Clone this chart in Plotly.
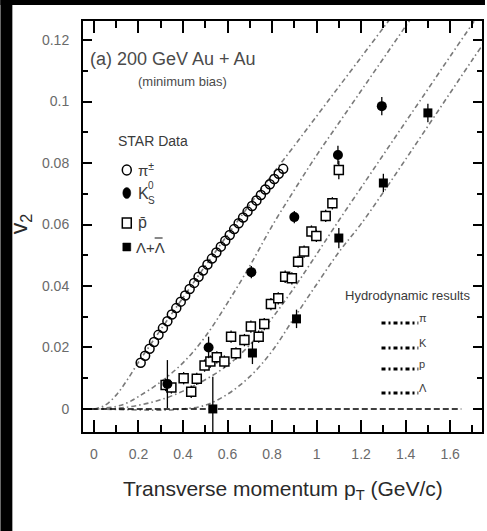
import plotly.graph_objects as go

# ---------------- data ----------------
# charged pions (open circles)
pion_pt = [0.21, 0.23, 0.25, 0.27, 0.29, 0.31, 0.33, 0.35, 0.37, 0.39, 0.41,
           0.43, 0.45, 0.47, 0.49, 0.51, 0.53, 0.55, 0.57, 0.59, 0.61, 0.63,
           0.65, 0.67, 0.69, 0.71, 0.73, 0.75, 0.77, 0.79, 0.81, 0.83, 0.85]
pion_v2 = [0.0150, 0.0173, 0.0196, 0.0218, 0.0241, 0.0263, 0.0285, 0.0307,
           0.0328, 0.0349, 0.0369, 0.0390, 0.0410, 0.0430, 0.0450, 0.0470,
           0.0489, 0.0509, 0.0528, 0.0547, 0.0566, 0.0585, 0.0604, 0.0623,
           0.0642, 0.0660, 0.0678, 0.0696, 0.0714, 0.0731, 0.0748, 0.0765,
           0.0781]

# K0s (filled circles)
kaon_pt = [0.33, 0.515, 0.707, 0.90, 1.096, 1.293]
kaon_v2 = [0.0081, 0.0200, 0.0445, 0.0624, 0.0826, 0.0985]
kaon_err = [0.0078, 0.0035, 0.0020, 0.0020, 0.0030, 0.0030]

# anti-protons (open squares)
pbar_pt = [0.322, 0.348, 0.403, 0.437, 0.462, 0.497, 0.523, 0.552, 0.586,
           0.616, 0.638, 0.676, 0.705, 0.740, 0.765, 0.795, 0.828, 0.859,
           0.889, 0.917, 0.944, 0.977, 0.999, 1.041, 1.071, 1.100]
pbar_v2 = [0.0078, 0.0070, 0.0100, 0.0056, 0.0098, 0.0141, 0.0154, 0.0168,
           0.0154, 0.0235, 0.0181, 0.0224, 0.0268, 0.0235, 0.0276, 0.0341,
           0.0360, 0.0430, 0.0425, 0.0479, 0.0512, 0.0577, 0.0563, 0.0628,
           0.0669, 0.0777]
pbar_err = [0.002] * 25 + [0.003]

# Lambda + anti-Lambda (filled squares)
lam_pt = [0.534, 0.712, 0.910, 1.100, 1.300, 1.500]
lam_v2 = [0.0000, 0.0182, 0.0293, 0.0556, 0.0735, 0.0963]
lam_err = [0.0105, 0.0036, 0.0030, 0.0033, 0.0030, 0.0030]

# hydrodynamic calculations
hyd_pi_pt = [0.0, 0.05, 0.1, 0.15, 0.2, 0.25, 0.3, 0.4, 0.5, 0.6, 0.7, 0.8,
             0.9, 1.0, 1.1, 1.2, 1.3, 1.35]
hyd_pi_v2 = [0.0, 0.0012, 0.0045, 0.0095, 0.0152, 0.0205, 0.0258, 0.0362,
             0.0465, 0.0566, 0.0665, 0.0762, 0.0856, 0.0952, 0.1048, 0.1144,
             0.1240, 0.1288]
hyd_k_pt = [0.0, 0.1, 0.15, 0.2, 0.3, 0.4, 0.5, 0.6, 0.7, 0.8, 0.9, 1.0,
            1.1, 1.2, 1.3, 1.4, 1.45]
hyd_k_v2 = [0.0, 0.0008, 0.0020, 0.0040, 0.0088, 0.0150, 0.0235, 0.0345,
            0.0465, 0.0595, 0.0712, 0.0825, 0.0930, 0.1035, 0.1140, 0.1245,
            0.1297]
hyd_p_pt = [0.0, 0.1, 0.2, 0.3, 0.4, 0.5, 0.6, 0.7, 0.8, 0.9, 1.0, 1.1, 1.2,
            1.3, 1.4, 1.5, 1.6, 1.7, 1.75]
hyd_p_v2 = [0.0, 0.0002, 0.0012, 0.0030, 0.0058, 0.0095, 0.0142, 0.0208,
            0.0295, 0.0395, 0.0503, 0.0613, 0.0720, 0.0827, 0.0934, 0.1040,
            0.1147, 0.1253, 0.1306]
hyd_l_pt = [0.0, 0.2, 0.3, 0.4, 0.5, 0.6, 0.7, 0.8, 0.9, 1.0, 1.1, 1.2, 1.3,
            1.4, 1.5, 1.6, 1.7, 1.78]
hyd_l_v2 = [0.0, -0.0003, -0.0004, 0.0, 0.0012, 0.0048, 0.0105, 0.0188,
            0.0297, 0.0405, 0.0510, 0.0602, 0.0705, 0.0812, 0.0920, 0.1028,
            0.1136, 0.1220]

star_labels = ["π<sup>±</sup>", "K", "p\u0304", "Λ+Λ"]
hydro_labels = ["π", "K", "p", "Λ"]

x_ticks = [0, 0.2, 0.4, 0.6, 0.8, 1, 1.2, 1.4, 1.6]
x_ticktext = ["0", "0.2", "0.4", "0.6", "0.8", "1", "1.2", "1.4", "1.6"]
y_ticks = [0, 0.02, 0.04, 0.06, 0.08, 0.1, 0.12]
y_ticktext = ["0", "0.02", "0.04", "0.06", "0.08", "0.1", "0.12"]

# ---------------- layout helpers ----------------
FIG_W, FIG_H = 487, 531
ML, MR, MT, MB = 83, 3, 21, 99
PW, PH = FIG_W - ML - MR, FIG_H - MT - MB


def px(xp):
    """page pixel x -> paper x"""
    return (xp - ML) / PW


def py(yp):
    """page pixel y -> paper y"""
    return (MT + PH - yp) / PH


FONT = "Liberation Sans, Arial, sans-serif"
HYD_DASH = "5px,3px,1.5px,3px"
HYD_COLOR = "#7a7a7a"

fig = go.Figure()

for xs, ys in [(hyd_pi_pt, hyd_pi_v2), (hyd_k_pt, hyd_k_v2),
               (hyd_p_pt, hyd_p_v2), (hyd_l_pt, hyd_l_v2)]:
    fig.add_trace(go.Scatter(
        x=xs, y=ys, mode="lines", line_shape="spline",
        line=dict(color=HYD_COLOR, width=1.6, dash=HYD_DASH),
        hoverinfo="skip", showlegend=False))

fig.add_trace(go.Scatter(
    x=pion_pt, y=pion_v2, mode="markers", showlegend=False,
    marker=dict(symbol="circle-open", size=9, color="black",
                line=dict(width=1.5, color="black"))))

fig.add_trace(go.Scatter(
    x=pbar_pt, y=pbar_v2, mode="markers", showlegend=False,
    error_y=dict(type="data", array=pbar_err, color="black",
                 thickness=1.3, width=0),
    marker=dict(symbol="square", size=9, color="white",
                line=dict(width=1.5, color="black"))))

fig.add_trace(go.Scatter(
    x=kaon_pt, y=kaon_v2, mode="markers", showlegend=False,
    error_y=dict(type="data", array=kaon_err, color="black",
                 thickness=1.3, width=0),
    marker=dict(symbol="circle", size=10, color="black")))

fig.add_trace(go.Scatter(
    x=lam_pt, y=lam_v2, mode="markers", showlegend=False,
    error_y=dict(type="data", array=lam_err, color="black",
                 thickness=1.3, width=0),
    marker=dict(symbol="square", size=9, color="black")))

shapes = []
# zero line
shapes.append(dict(type="line", xref="x", yref="y", x0=-0.05, x1=1.65,
                   y0=0, y1=0, line=dict(color="black", width=1.5,
                                         dash="6px,3px")))
# black frame strips on left and top of the page
shapes.append(dict(type="rect", xref="paper", yref="paper",
                   x0=px(0), x1=px(12), y0=py(FIG_H), y1=py(0),
                   fillcolor="black", line=dict(width=0), layer="above"))
shapes.append(dict(type="rect", xref="paper", yref="paper",
                   x0=px(0), x1=px(FIG_W), y0=py(5), y1=py(0),
                   fillcolor="black", line=dict(width=0), layer="above"))

# STAR data key
kx = 127
shapes.append(dict(type="circle", xref="paper", yref="paper",
                   x0=px(kx - 4.5), x1=px(kx + 4.5), y0=py(170 + 5), y1=py(170 - 5),
                   line=dict(color="black", width=1.5), fillcolor="white"))
shapes.append(dict(type="circle", xref="paper", yref="paper",
                   x0=px(kx - 4), x1=px(kx + 4), y0=py(193 + 5.5), y1=py(193 - 5.5),
                   line=dict(color="black", width=0.5), fillcolor="black"))
shapes.append(dict(type="rect", xref="paper", yref="paper",
                   x0=px(kx - 4.5), x1=px(kx + 4.5), y0=py(223 + 5), y1=py(223 - 5),
                   line=dict(color="black", width=1.5), fillcolor="white"))
shapes.append(dict(type="rect", xref="paper", yref="paper",
                   x0=px(kx - 4), x1=px(kx + 4), y0=py(247 + 4), y1=py(247 - 4),
                   line=dict(color="black", width=0.5), fillcolor="black"))
# bar over the anti-Lambda in the key label
shapes.append(dict(type="line", xref="paper", yref="paper",
                   x0=px(155), x1=px(163), y0=py(238), y1=py(238),
                   line=dict(color="#3a3a3a", width=1.2)))

# hydro key lines
hyd_key_y = [323, 348, 369, 393]
for yk in hyd_key_y:
    shapes.append(dict(type="line", xref="paper", yref="paper",
                       x0=px(383), x1=px(420), y0=py(yk), y1=py(yk),
                       line=dict(color="black", width=3, dash="4px,3px,2px,3px")))

annotations = []


def text(xp, yp, s, size, color="#3a3a3a", xanchor="left", angle=0):
    annotations.append(dict(
        x=px(xp), y=py(yp), xref="paper", yref="paper", text=s,
        showarrow=False, xanchor=xanchor, yanchor="middle", textangle=angle,
        font=dict(family=FONT, size=size, color=color)))


text(88, 59, "(a) 200 GeV Au + Au", 18, "#4a4a4a")
text(136, 81, "(minimum bias)", 13, "#4a4a4a")
text(116, 141, "STAR Data", 14)
text(136, 169, star_labels[0], 15)
text(136, 193, star_labels[1], 16)
text(146, 186, "0", 10)
text(146, 200, "S", 10)
text(136, 223, star_labels[2], 16)
text(134, 247, star_labels[3], 15)
text(344, 295, "Hydrodynamic results", 13)
for yk, lab in zip(hyd_key_y, hydro_labels):
    text(419, yk - 5, lab, 11)

# axis titles
text(283.5, 490, "Transverse momentum p<sub>T</sub> (GeV/c)", 21, "#2a2a2a",
     xanchor="center")
text(21, 224, "v<sub>2</sub>", 23, "#2a2a2a", xanchor="center", angle=-90)

axis_common = dict(
    showline=True, linecolor="black", linewidth=2, mirror="allticks",
    ticks="inside", tickcolor="black", tickwidth=1.5,
    showgrid=False, zeroline=False,
    tickfont=dict(family=FONT, size=14, color="#6a6a6a"),
)

fig.update_layout(
    width=FIG_W, height=FIG_H,
    margin=dict(l=ML, r=MR, t=MT, b=MB),
    paper_bgcolor="white", plot_bgcolor="white",
    showlegend=False,
    shapes=shapes, annotations=annotations,
    xaxis=dict(range=[-0.049, 1.743], tickvals=x_ticks, ticktext=x_ticktext,
               ticklen=12, ticklabelstandoff=8,
               minor=dict(dtick=0.1, tick0=0, ticklen=7, tickwidth=1.5,
                          tickcolor="black", ticks="inside"),
               **axis_common),
    yaxis=dict(range=[-0.0075, 0.1262], tickvals=y_ticks, ticktext=y_ticktext,
               ticklen=9, ticklabelstandoff=9,
               minor=dict(dtick=0.01, tick0=0, ticklen=5, tickwidth=1.5,
                          tickcolor="black", ticks="inside"),
               **axis_common),
)

fig.write_html("out.html")
